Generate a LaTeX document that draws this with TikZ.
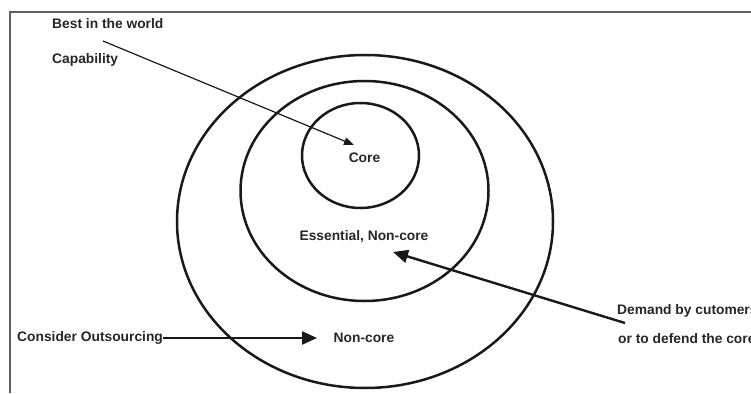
\documentclass[tikz,border=0pt]{standalone}
\usepackage{fontspec}
\setmainfont{Liberation Sans}
\usetikzlibrary{arrows.meta,shapes.geometric}
\begin{document}
\begin{tikzpicture}[x=1pt,y=-1pt,
  label/.style={font=\fontsize{13.8}{16}\selectfont\bfseries, text=black!85, inner sep=0pt},
  ring/.style={draw=black!90, line width=2.5pt, ellipse, inner sep=0pt},
  frameline/.style={draw=black!62, line width=1.6pt},
  thin/.style={draw=black!90, line width=1.2pt, -{Triangle[length=10pt,width=7.5pt]}},
  thick/.style={draw=black!90, line width=2.4pt, -{Triangle[length=15pt,width=13pt]}}]
  \useasboundingbox (0,0) rectangle (751,393);
  \clip (0,0) rectangle (751,393);
  % frame corner
  \coordinate (fTR) at (751,12);
  \coordinate (fTL) at (10,12);
  \coordinate (fBL) at (10,393);
  \draw[frameline] (fTR) -- (fTL) -- (fBL);
  % three nested rings
  \node[ring, minimum width=376pt, minimum height=333pt] (outer) at (365,221.5) {};
  \node[ring, minimum width=248pt, minimum height=220pt] (middle) at (364.5,191) {};
  \node[ring, minimum width=117pt, minimum height=105pt] (inner) at (360.5,155.5) {};
  % labels
  \node[label] (core) at (364.5,158) {Core};
  \node[label] (ess) at (364,237) {Essential, Non-core};
  \node[label] (noncore) at (364,337.5) {Non-core};
  \node[label, anchor=west] (best) at (52,24) {Best in the world};
  \node[label, anchor=west] (cap) at (52,60) {Capability};
  \node[label, anchor=west] (cons) at (17,338) {Consider Outsourcing};
  \node[label, anchor=west] (dem) at (617,311) {Demand by cutomers};
  \node[label, anchor=west] (def) at (618,339) {or to defend the core};
  % arrows
  \coordinate (bestTail) at (103,41);
  \coordinate (coreTip) at (354,145);
  \draw[thin] (bestTail) -- (coreTip);
  \coordinate (consTip) at (317,338);
  \draw[thick] (cons.east) -- (consTip);
  \coordinate (demTail) at (625,323);
  \coordinate (essTip) at (393,252);
  \draw[thick] (demTail) -- (essTip);
\end{tikzpicture}
\end{document}
